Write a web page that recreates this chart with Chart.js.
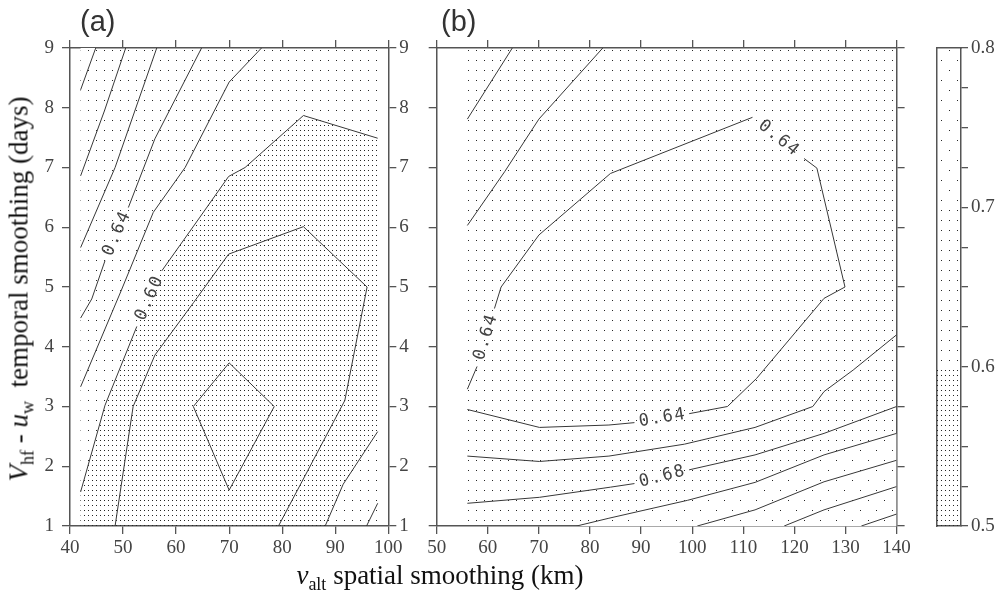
<!DOCTYPE html>
<html lang="en">
<head>
<meta charset="UTF-8">
<title>Smoothing contours</title>
<script src="https://cdn.jsdelivr.net/npm/chart.js"></script>
<style>
  body { margin: 0; background: #fff; }
  #wrap { position: relative; width: 1004px; height: 592px; overflow: hidden; }
  canvas { position: absolute; top: 0; }
  .tag { position: absolute; top: 7px; font: 29px 'Liberation Sans', Arial, sans-serif; color: #333; line-height: 1; }
  .title { position: absolute; font: 27px 'Liberation Serif', 'Times New Roman', serif; color: #111; white-space: nowrap; line-height: 1; }
  .title sub { font-size: 18px; vertical-align: -6px; }
  #ytitle { left: 21px; top: 289px; transform: translate(-50%, -50%) rotate(-90deg); }
  #xtitle { left: 440px; top: 577px; transform: translate(-50%, -50%); }
</style>
</head>
<body>
<div id="wrap">
  <canvas id="panelA" width="420" height="592" style="left:0"></canvas>
  <canvas id="panelB" width="510" height="592" style="left:420px"></canvas>
  <canvas id="cbar" width="79" height="592" style="left:925px"></canvas>
  <div class="tag" style="left:80px">(a)</div>
  <div class="tag" style="left:441px">(b)</div>
  <div class="title" id="ytitle"><i>V</i><sub>hf</sub> - <i>u</i><sub>w</sub>&nbsp; temporal smoothing (days)</div>
  <div class="title" id="xtitle"><i>v</i><sub>alt</sub> spatial smoothing (km)</div>
</div>
<script>
// ---- panel (a): spatial 40-100 km, temporal 1-9 days ----
const aXRange = [40, 100];
const aDomain = [[42,1],[98,1],[98,9],[42,9],[42,1]];
const aDense = [[42,1],[42,1.57],[46.6,3.02],[52.6,4.34],[57.3,5.27],[64.5,6.17],[69.9,6.85],[73,7.0],[84,7.87],[98,7.49],[98,2.58],[91.5,1.7],[88.1,1],[42,1]];
const aSparse = [[42,8.3],[44.85,9],[42,9],[42,8.3]];
const aLines = [
  [[42,8.3],[44.85,9]],                                        // 0.70
  [[42,6.86],[46.5,7.95],[50.5,9]],                            // 0.68
  [[42,5.66],[48.5,7.0],[56.35,9]],                            // 0.66
  [[42,4.48],[44.1,4.8],[46.6,5.44],null,[51,6.33],[56,7.48],[64.8,9]],   // 0.64
  [[42,3.33],[49.7,4.95],[55.7,6.25],[61.7,7.0],[70,8.43],[76.1,9]],      // 0.62
  [[42,1.57],[46.6,3.02],[52.6,4.34],null,[57.3,5.27],[64.5,6.17],[69.9,6.85],[73,7.0],[84,7.87],[98,7.49]], // 0.60
  [[48.5,1],[51.9,3.0],[56,3.86],[63.3,4.74],[69.9,5.55],[84,6.01],[96,5.0],[91.8,3.1],[79.3,1]],          // 0.58
  [[63.25,3],[70,3.73],[78.5,3],[70,1.6],[63.25,3]],           // 0.56
  [[98,2.58],[91.5,1.7],[88.1,1]],                             // 0.60
  [[95.9,1],[98,1.38]]                                         // 0.62
];
const aLabels = [
  ['0.64', [46.6,5.44], [51,6.33]],
  ['0.60', [52.6,4.34], [57.3,5.27]]
];

// ---- panel (b): spatial 50-140 km ----
const bXRange = [50, 140];
const bDomain = [[56,1],[140,1],[140,9],[56,9],[56,1]];
const bSparse = [[77.4,1],[83.7,1.13],[99.1,1.43],[112.3,1.73],[125.8,2.19],[140,2.55],[140,1],[77.4,1]];
const bLines = [
  [[56,7.81],[64.8,9]],                                        // 0.68
  [[56,6.03],[63.3,6.93],[70,7.81],[82.5,9]],                  // 0.66
  [[56,3.29],[57.9,3.67],null,[61.3,4.64],[62.6,5.0],[70,5.87],[84,6.9],[111.8,7.84],null,[121.9,7.15],[124.4,6.99],[129.9,5.0],[125.8,4.81],[112.6,3.47],[106.9,3.0],[99.4,2.88],null,[88.7,2.73],[83.7,2.69],[70.1,2.65],[56,2.95]], // 0.64
  [[56,2.17],[70.1,2.08],[83.7,2.17],[98.5,2.37],[112.3,2.65],[123.6,3.0],[125.8,3.25],[131.5,3.61],[140,4.2]], // 0.66
  [[56,1.38],[70.1,1.48],[84,1.65],[88.7,1.71],null,[99.4,1.94],[112.3,2.19],[125.8,2.55],[140,3.0]],          // 0.68
  [[77.4,1],[83.7,1.13],[99.1,1.43],[112.3,1.73],[125.8,2.19],[140,2.55]],   // 0.70
  [[101,1],[112.3,1.27],[125.8,1.74],[140,2.1]],               // 0.72
  [[118,1],[125.8,1.27],[140,1.66]],                           // 0.74
  [[133.1,1],[140,1.2]]                                        // 0.76
];
const bLabels = [
  ['0.64', [57.9,3.67], [61.3,4.64]],
  ['0.64', [111.8,7.84], [121.9,7.15]],
  ['0.64', [88.7,2.73], [99.4,2.88]],
  ['0.68', [88.7,1.71], [99.4,1.94]]
];

const yRange = [1, 9];

// ---- colour bar ----
const cbEdges = [0.5, 0.6, 0.7, 0.8];

// stipple patterns
function dotPattern(w, h, pts) {
  const tile = document.createElement('canvas');
  tile.width = w; tile.height = h;
  const g = tile.getContext('2d');
  g.fillStyle = '#262626';
  pts.forEach(p => g.fillRect(p[0], p[1], 1, 1));
  return g.createPattern(tile, 'repeat');
}
const dense = dotPattern(4, 5, [[0, 0]]);
const medium = dotPattern(8, 10, [[0, 0]]);
const sparse = dotPattern(16, 20, [[0, 0], [8, 10]]);

function toPts(arr) {
  let lastX = 0;
  return arr.map(p => {
    if (!p) return {x: lastX, y: null};
    lastX = p[0];
    return {x: p[0], y: p[1]};
  });
}
function area(poly, color, order) {
  return { data: toPts(poly), fill: 'shape', backgroundColor: color, borderWidth: 0, pointRadius: 0, order: order };
}
function contour(line) {
  return { data: toPts(line), fill: false, borderColor: '#383838', borderWidth: 1, pointRadius: 0, tension: 0, spanGaps: false, order: 0 };
}

const contourLabels = {
  id: 'contourLabels',
  afterDatasetsDraw(chart, args, opts) {
    const ctx = chart.ctx, xs = chart.scales.x, ys = chart.scales.y;
    ctx.save();
    ctx.font = '17px "DejaVu Sans Mono", monospace';
    ctx.fillStyle = '#444';
    ctx.textAlign = 'center';
    ctx.textBaseline = 'middle';
    (opts.items || []).forEach(([txt, p, q]) => {
      const x1 = xs.getPixelForValue(p[0]), y1 = ys.getPixelForValue(p[1]);
      const x2 = xs.getPixelForValue(q[0]), y2 = ys.getPixelForValue(q[1]);
      ctx.save();
      ctx.translate((x1 + x2) / 2, (y1 + y2) / 2);
      ctx.rotate(Math.atan2(y2 - y1, x2 - x1));
      const step = 12;
      [...txt].forEach((ch, i) => ctx.fillText(ch, (i - (txt.length - 1) / 2) * step, 0));
      ctx.restore();
    });
    ctx.restore();
  }
};

const tickFont = { family: "'Liberation Serif', 'Times New Roman', serif", size: 19 };
const grid = { drawOnChartArea: false, drawTicks: true, tickLength: 8, color: '#555', lineWidth: 1.3 };
const border = { display: true, color: '#555', width: 1.5 };

function panelScales(xr, yLeftW, yRightW, leftLabels, rightLabels) {
  const yt = (show, pad) => ({ stepSize: 1, display: show, font: tickFont, color: '#444', padding: pad });
  return {
    x: { type: 'linear', position: 'bottom', min: xr[0], max: xr[1], z: 1,
         ticks: { stepSize: 10, font: tickFont, color: '#444', padding: 3, maxRotation: 0 },
         grid: grid, border: border, afterFit: s => { s.height = 66; } },
    x2: { type: 'linear', axis: 'x', position: 'top', min: xr[0], max: xr[1], z: 1,
          ticks: { stepSize: 10, display: false }, grid: grid, border: border,
          afterFit: s => { s.height = 48; } },
    y: { type: 'linear', position: 'left', min: yRange[0], max: yRange[1], z: 1,
         ticks: yt(leftLabels, 8), grid: grid, border: border,
         afterFit: s => { s.width = yLeftW; } },
    y2: { type: 'linear', axis: 'y', position: 'right', min: yRange[0], max: yRange[1], z: 1,
          ticks: yt(rightLabels, 3), grid: grid, border: border,
          afterFit: s => { s.width = yRightW; } }
  };
}

function panel(id, xr, domain, denseArea, sparseArea, lines, labels, yLeftW, yRightW, leftLabels, rightLabels) {
  const datasets = [area(domain, medium, 10)];
  if (sparseArea) {
    datasets.push(area(sparseArea, '#ffffff', 9));
    datasets.push(area(sparseArea, sparse, 8));
  }
  if (denseArea) datasets.push(area(denseArea, dense, 8));
  lines.forEach(l => datasets.push(contour(l)));
  new Chart(document.getElementById(id), {
    type: 'line',
    data: { datasets: datasets },
    options: {
      responsive: false, animation: false, devicePixelRatio: 1, events: [],
      layout: { padding: 0 },
      plugins: { legend: { display: false }, tooltip: { enabled: false },
                 filler: { drawTime: 'beforeDatasetsDraw' },
                 contourLabels: { items: labels } },
      scales: panelScales(xr, yLeftW, yRightW, leftLabels, rightLabels)
    },
    plugins: [contourLabels]
  });
}

panel('panelA', aXRange, aDomain, aDense, aSparse, aLines, aLabels, 70, 420 - 388.3, true, true);
panel('panelB', bXRange, bDomain, null, bSparse, bLines, bLabels, 16.7, 510 - 476.6, false, false);

// colour bar: three stippled bands
const bandFills = [dense, medium, sparse];
new Chart(document.getElementById('cbar'), {
  type: 'bar',
  data: {
    labels: ['bar'],
    datasets: cbEdges.slice(0, -1).map((lo, i) => ({
      data: [[lo, cbEdges[i + 1]]], backgroundColor: bandFills[i], borderWidth: 0,
      grouped: false, barPercentage: 1, categoryPercentage: 1
    }))
  },
  options: {
    responsive: false, animation: false, devicePixelRatio: 1, events: [],
    layout: { padding: 0 },
    plugins: { legend: { display: false }, tooltip: { enabled: false } },
    scales: {
      x: { position: 'bottom', z: 1, ticks: { display: false }, grid: { drawOnChartArea: false, drawTicks: false }, border: border,
           afterFit: s => { s.height = 66; } },
      xt: { type: 'category', axis: 'x', position: 'top', z: 1, ticks: { display: false }, grid: { drawOnChartArea: false, drawTicks: false }, border: border,
            afterFit: s => { s.height = 48; } },
      yl: { type: 'linear', axis: 'y', position: 'left', min: cbEdges[0], max: cbEdges[3], z: 1, ticks: { display: false },
            grid: { drawOnChartArea: false, drawTicks: false }, border: border, afterFit: s => { s.width = 12; } },
      y: { type: 'linear', position: 'right', min: cbEdges[0], max: cbEdges[3], z: 1,
           ticks: { stepSize: 0.025, autoSkip: false, font: tickFont, color: '#444', padding: 3,
                    callback: v => Math.abs(v * 10 - Math.round(v * 10)) < 1e-6 ? v.toFixed(1) : '' },
           grid: { drawOnChartArea: false, tickLength: 7, color: '#555', lineWidth: 1.3 }, border: border,
           afterFit: s => { s.width = 43; } }
    }
  }
});
</script>
</body>
</html>
